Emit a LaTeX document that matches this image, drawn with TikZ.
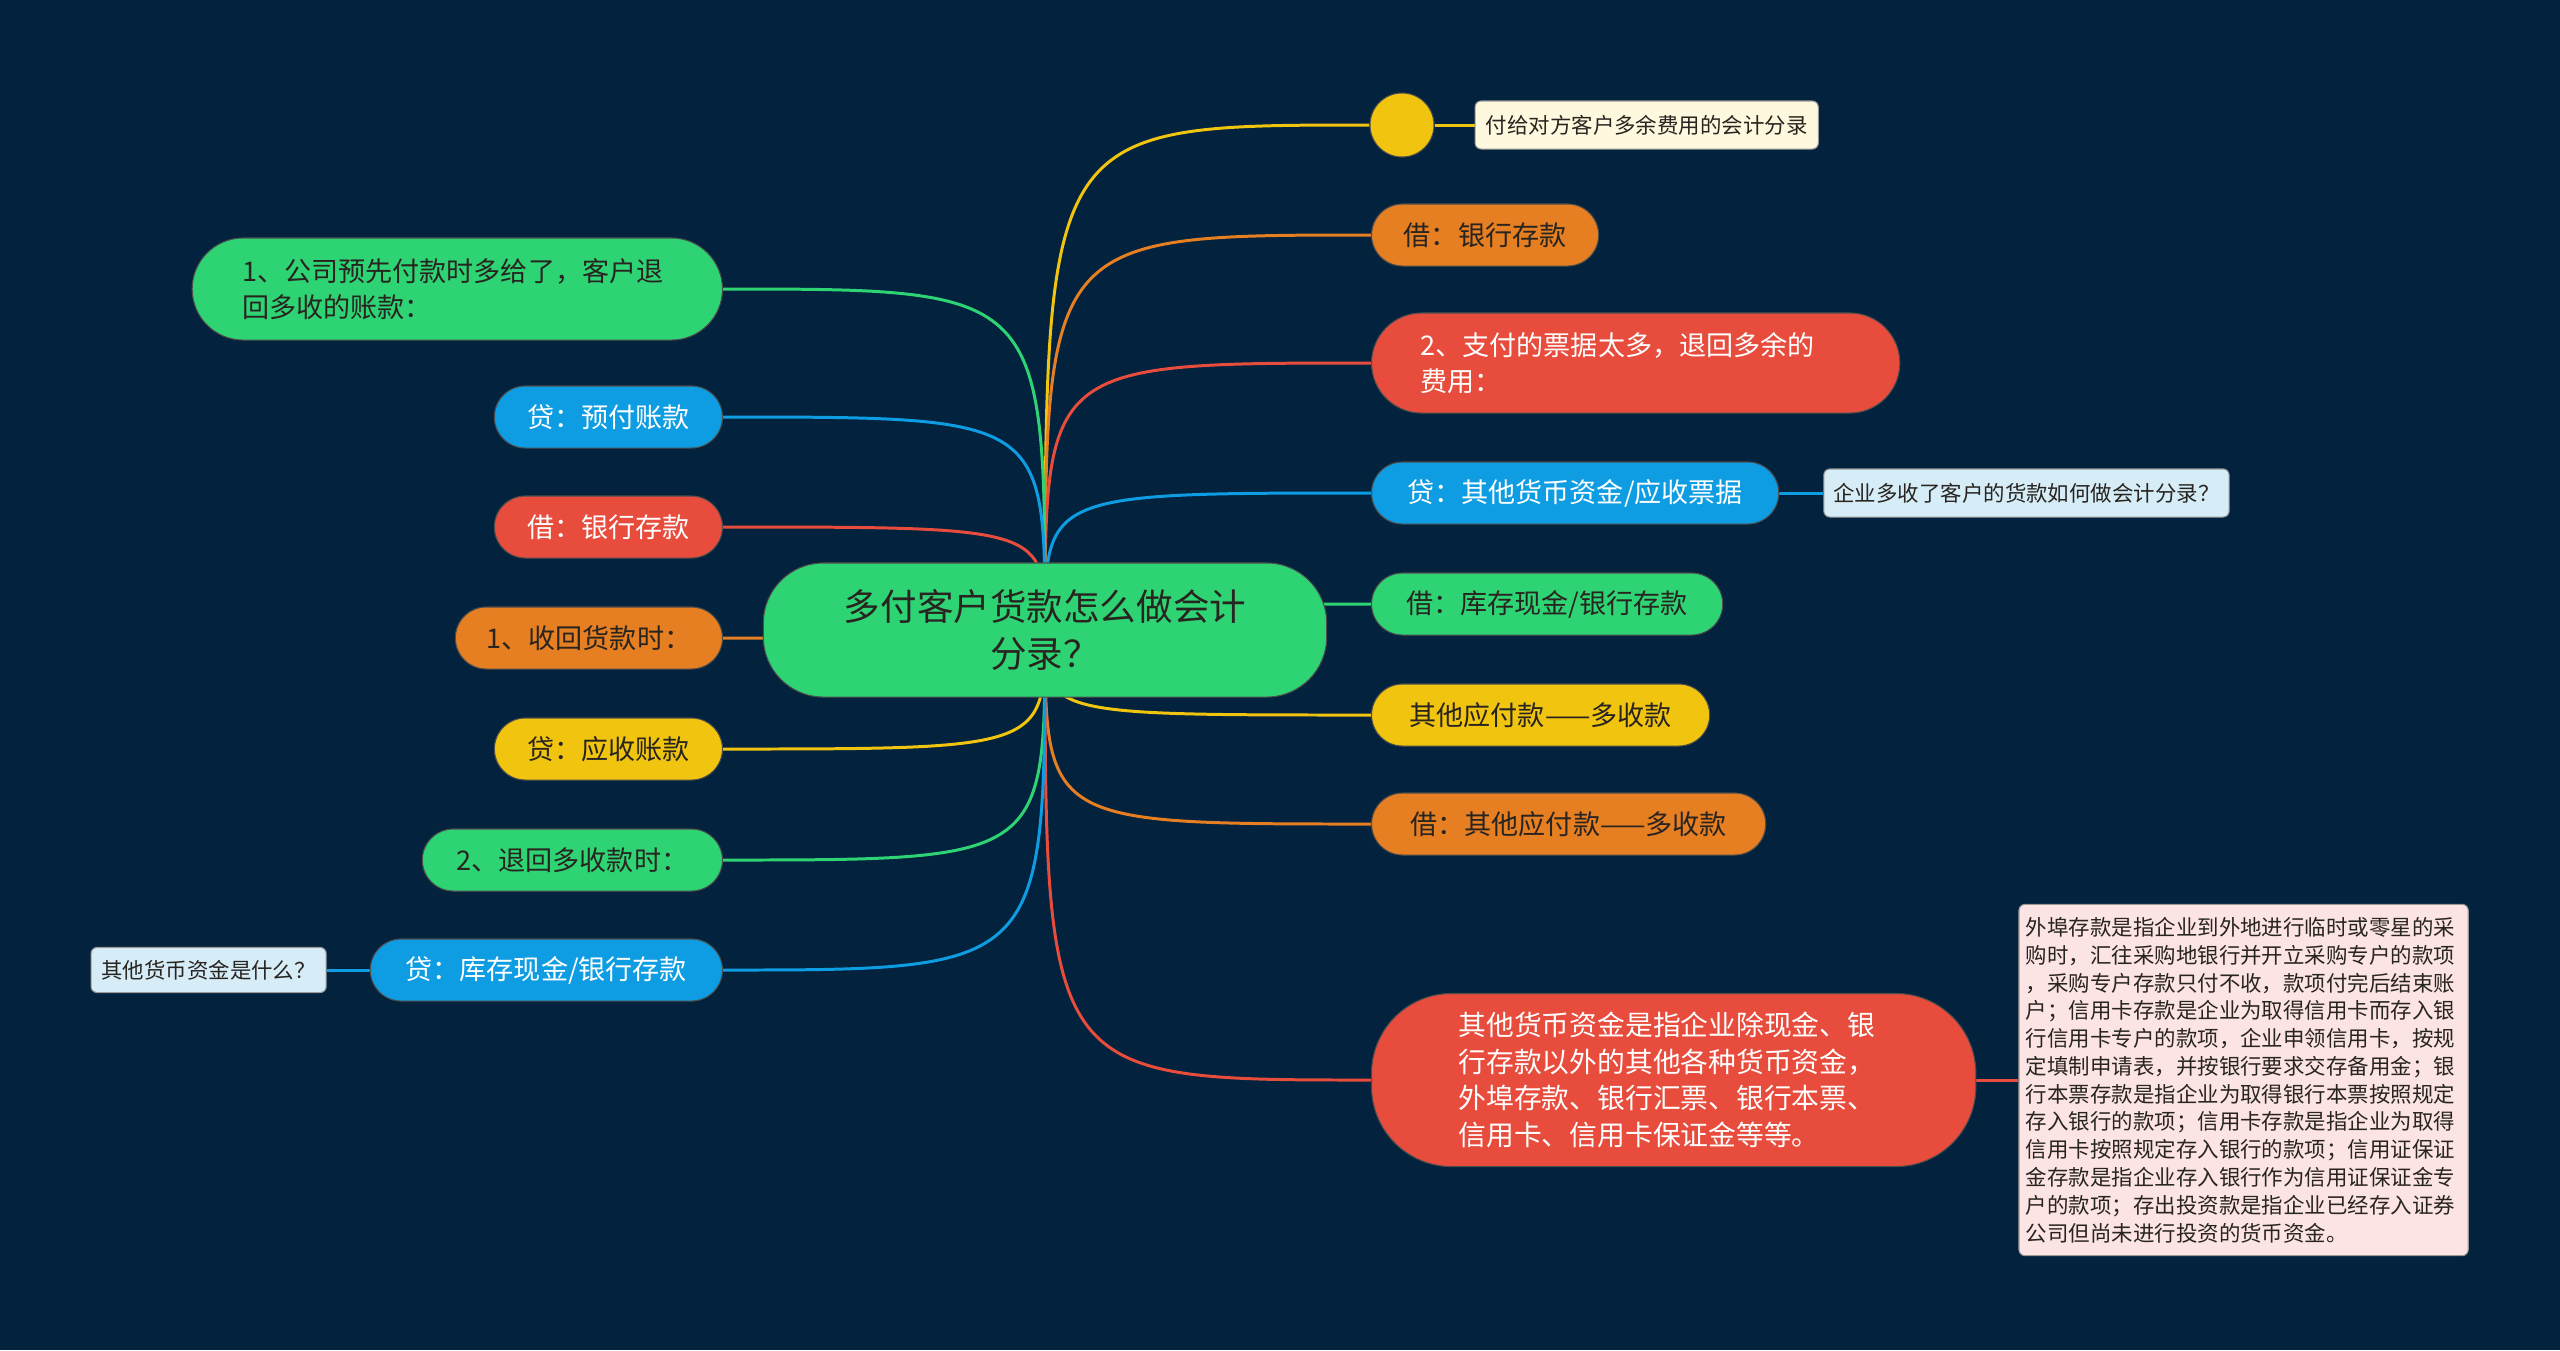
\documentclass[tikz,border=0pt]{standalone}
\usepackage{fontspec}
\setmainfont{Noto Sans CJK SC}
\usepackage{tikz}
\usetikzlibrary{positioning}
\definecolor{MapNavy}{RGB}{2,34,61}
\definecolor{MapGreen}{RGB}{46,212,116}
\definecolor{MapBlue}{RGB}{14,157,226}
\definecolor{MapRed}{RGB}{231,76,60}
\definecolor{MapOrange}{RGB}{230,126,34}
\definecolor{MapYellow}{RGB}{241,196,15}
\definecolor{MapInk}{RGB}{40,36,32}
\definecolor{NoteCream}{RGB}{254,248,222}
\definecolor{NoteSky}{RGB}{214,237,248}
\definecolor{NotePink}{RGB}{252,228,228}
\pgfdeclarelayer{canvas}
\pgfdeclarelayer{links}
\pgfsetlayers{canvas,links,main}
\tikzset{
  pill/.style={rounded corners=0.31cm, draw=black!70, line width=0.3pt, minimum height=0.62cm, inner xsep=0pt, inner ysep=0pt, font=\fontsize{7.7pt}{10.2pt}\selectfont},
  darkpill/.style={pill, fill=#1, text=MapInk},
  lightpill/.style={pill, fill=#1, text=white},
  notebox/.style={rounded corners=0.06cm, draw=black!40, line width=0.3pt, fill=#1, text=MapInk, inner xsep=0.07cm, inner ysep=0pt, font=\fontsize{6.1pt}{7.9pt}\selectfont},
  link/.style={draw=#1, line width=0.85pt}
}
\begin{document}
\begin{tikzpicture}[x=0.01cm, y=-0.01cm]
  \begin{pgfonlayer}{canvas}
    \fill[MapNavy] (0,0) rectangle (2560,1350);
  \end{pgfonlayer}
  \useasboundingbox (0,0) rectangle (2560,1350);

  \node[rounded corners=0.6cm, fill=MapGreen, draw=black!70, line width=0.3pt, minimum width=5.63cm, minimum height=1.34cm, align=center, text=MapInk, font=\fontsize{10.4pt}{13.4pt}\selectfont] (root) at (1045,630) {多付客户货款怎么做会计\\分录？};

  \node[circle, fill=MapYellow, draw=black!70, line width=0.3pt, minimum size=0.64cm, inner sep=0pt] (r1) at (1402,125) {};
  \node[notebox=NoteCream, minimum width=3.43cm, minimum height=0.48cm, right=0.40cm of r1] (n1) {付给对方客户多余费用的会计分录};
  \node[darkpill=MapOrange, minimum width=2.27cm, anchor=west] (r2) at (1371,235) {借：银行存款};
  \node[lightpill=MapRed, rounded corners=0.5cm, minimum height=1.00cm, text width=4.3cm, inner xsep=0.49cm, align=left, anchor=west] (r3) at (1371,363) {2、支付的票据太多，退回多余的\\费用：};
  \node[lightpill=MapBlue, minimum width=4.07cm, anchor=west] (r4) at (1371,493) {贷：其他货币资金/应收票据};
  \node[notebox=NoteSky, minimum width=4.05cm, minimum height=0.48cm, right=0.44cm of r4] (n4) {企业多收了客户的货款如何做会计分录？};
  \node[darkpill=MapGreen, minimum width=3.51cm, anchor=west] (r5) at (1371,604) {借：库存现金/银行存款};
  \node[darkpill=MapYellow, minimum width=3.38cm, anchor=west] (r6) at (1371,715) {其他应付款——多收款};
  \node[darkpill=MapOrange, minimum width=3.94cm, anchor=west] (r7) at (1371,824) {借：其他应付款——多收款};
  \node[lightpill=MapRed, rounded corners=0.8cm, minimum height=1.73cm, text width=4.3cm, inner xsep=0.87cm, align=left, font=\fontsize{7.9pt}{10.4pt}\selectfont, anchor=west] (r8) at (1371,1080) {其他货币资金是指企业除现金、银\\行存款以外的其他各种货币资金，\\外埠存款、银行汇票、银行本票、\\信用卡、信用卡保证金等等。};
  \node[notebox=NotePink, minimum width=4.49cm, minimum height=3.51cm, text width=4.35cm, align=left, right=0.42cm of r8] (n8) {外埠存款是指企业到外地进行临时或零星的采\\购时，汇往采购地银行并开立采购专户的款项\\，采购专户存款只付不收，款项付完后结束账\\户；信用卡存款是企业为取得信用卡而存入银\\行信用卡专户的款项，企业申领信用卡，按规\\定填制申请表，并按银行要求交存备用金；银\\行本票存款是指企业为取得银行本票按照规定\\存入银行的款项；信用卡存款是指企业为取得\\信用卡按照规定存入银行的款项；信用证保证\\金存款是指企业存入银行作为信用证保证金专\\户的款项；存出投资款是指企业已经存入证券\\公司但尚未进行投资的货币资金。};

  \node[darkpill=MapGreen, rounded corners=0.51cm, minimum height=1.02cm, text width=4.3cm, inner xsep=0.5cm, align=left, anchor=east] (l1) at (723,289) {1、公司预先付款时多给了，客户退\\回多收的账款：};
  \node[lightpill=MapBlue, minimum width=2.28cm, anchor=east] (l2) at (723,417) {贷：预付账款};
  \node[lightpill=MapRed, minimum width=2.28cm, anchor=east] (l3) at (723,527) {借：银行存款};
  \node[darkpill=MapOrange, minimum width=2.67cm, anchor=east] (l4) at (723,638) {1、收回货款时：};
  \node[darkpill=MapYellow, minimum width=2.28cm, anchor=east] (l5) at (723,749) {贷：应收账款};
  \node[darkpill=MapGreen, minimum width=3.00cm, anchor=east] (l6) at (723,860) {2、退回多收款时：};
  \node[lightpill=MapBlue, minimum width=3.52cm, anchor=east] (l7) at (723,970) {贷：库存现金/银行存款};
  \node[notebox=NoteSky, minimum width=2.35cm, minimum height=0.45cm, left=0.43cm of l7] (n7) {其他货币资金是什么？};

  \begin{pgfonlayer}{links}
    \foreach \n/\c in {r1/MapYellow, r2/MapOrange, r3/MapRed, r4/MapBlue, r5/MapGreen, r6/MapYellow, r7/MapOrange, r8/MapRed}
      \draw[link=\c] (root.center) .. controls (root.center |- \n.west) .. (\n.west);
    \foreach \n/\c in {l1/MapGreen, l2/MapBlue, l3/MapRed, l4/MapOrange, l5/MapYellow, l6/MapGreen, l7/MapBlue}
      \draw[link=\c] (root.center) .. controls (root.center |- \n.east) .. (\n.east);
    \draw[link=MapYellow] (r1.east) -- (n1.west);
    \draw[link=MapBlue] (r4.east) -- (n4.west);
    \draw[link=MapRed] (r8.east) -- (n8.west);
    \draw[link=MapBlue] (l7.west) -- (n7.east);
  \end{pgfonlayer}
\end{tikzpicture}
\end{document}
